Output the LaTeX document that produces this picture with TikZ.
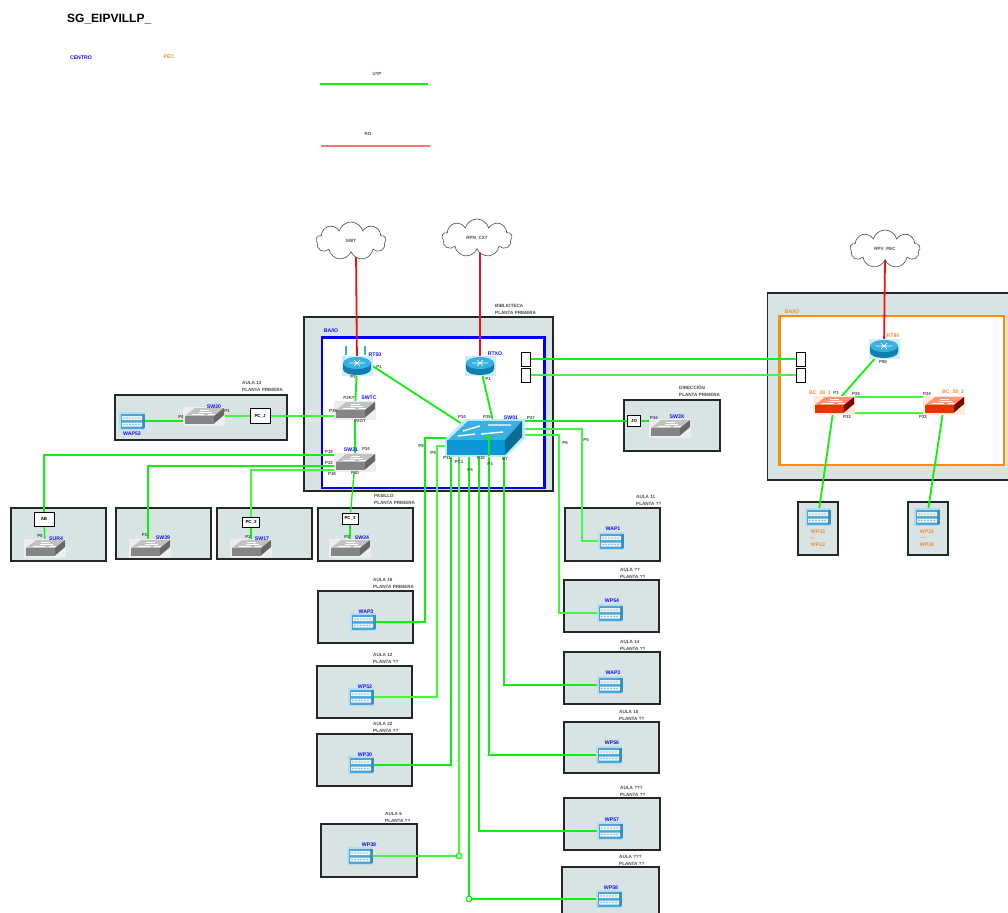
\documentclass[tikz,border=0pt]{standalone}
\usepackage{fontspec}
\setmainfont{Liberation Sans}
\usetikzlibrary{shapes.symbols,calc}
\pgfdeclarelayer{bg}\pgfdeclarelayer{lines}
\pgfsetlayers{bg,lines,main}
\definecolor{tilec}{HTML}{D8E3E3}
\definecolor{utpg}{HTML}{10F010}
\definecolor{utpl}{HTML}{40F840}
\definecolor{rojo}{HTML}{F01010}
\definecolor{rol}{HTML}{FF7070}
\definecolor{bluel}{HTML}{0000F0}
\definecolor{orangel}{HTML}{FF8C00}
\definecolor{labb}{HTML}{1010FF}
\definecolor{labo}{HTML}{F58A30}
\definecolor{wapb}{HTML}{4AA6D8}
\definecolor{wapd}{HTML}{3A8FBF}
\definecolor{rtop}{HTML}{38B0E4}
\definecolor{rbody}{HTML}{0F7EB0}
\newcounter{lc}
\tikzset{
  x=1pt,y=-1pt,
  tile/.style={draw=black!85,fill=tilec,line width=1.1pt},
  zoneb/.style={draw=bluel,fill=white,line width=2.4pt},
  zoneo/.style={draw=orangel,fill=white,line width=2.4pt},
  devbox/.style={inner sep=0pt,outer sep=0pt},
  plab/.style={inner sep=0pt,font=\bfseries\fontsize{4.4}{5}\selectfont,text=black!70},
  nlab/.style={inner sep=0pt,font=\bfseries\fontsize{5.2}{6}\selectfont},
  tlab/.style={inner sep=0pt,anchor=north west,align=left,font=\bfseries\fontsize{4.6}{7}\selectfont,text=black!70},
  wport/.style={draw=black,fill=white,line width=1pt,inner sep=0pt,font=\bfseries\fontsize{4.4}{5}\selectfont},
  nube/.style={cloud,cloud puffs=9,aspect=1.9,draw=black!70,fill=white,line width=.6pt,inner sep=0pt,minimum width=70pt,minimum height=38pt,font=\bfseries\fontsize{4.6}{5}\selectfont,text=black!70},
  utp/.style={draw=utpg,line width=1.3pt},
  utpt/.style={draw=utpg,line width=1.8pt},
  utpq/.style={draw=utpl,line width=1.5pt},
  wan/.style={draw=rojo,line width=1.8pt},
  junc/.style={circle,draw=utpg,fill=white,line width=1.2pt,minimum size=5.5pt,inner sep=0pt},
  pics/swdev/.style n args={4}{code={
    \fill[#4] (-21,-9.5) rectangle (21,9.5);
    \fill[#1] (-19,0) -- (-9,-8) -- (20,-8) -- (10,0) -- cycle;
    \fill[#2] (-19,0) rectangle (10,7.5);
    \fill[#3] (10,0) -- (20,-8) -- (20,-1) -- (10,7.5) -- cycle;
    \draw[white,line width=.9pt] (-12,-1.5) -- (0,-1.5) (-5,-3.7) -- (8,-3.7) (-4,-6) -- (5,-6) (4,-1.5) -- (11,-1.5);
  }},
  pics/rtdev/.style={code={
    \fill[rtop!25] (-15.5,-9) rectangle (15.5,11);
    \fill[rbody] (-14,-2) -- (-14,4) .. controls (-14,8) and (-7,10) .. (0,10) .. controls (7,10) and (14,8) .. (14,4) -- (14,-2) -- cycle;
    \fill[rtop] (0,-2) ellipse[x radius=14,y radius=6];
    \draw[white,line width=.7pt] (-8,-2) -- (8,-2) (-3,-5) -- (3,1) (-3,1) -- (3,-5);
  }},
  pics/wapdev/.style={code={
    \fill[wapb!40] (-13,-9) rectangle (13,9);
    \fill[wapb] (-11.5,-7.5) rectangle (11.5,7.5);
    \fill[wapd] (10,-7) rectangle (12.5,7);
    \fill[white!88!wapb] (-10,-5) rectangle (10,-1) (-10,1.5) rectangle (10,5.5);
    \foreach \xx in {-8,-5,-2,1,4,7}{\fill[wapd] (\xx,-3) circle[radius=.6] (\xx,3.5) circle[radius=.6];}
  }}
}
\newcommand{\plbl}[3][black!70]{\stepcounter{lc}\node[plab,text=#1] (t\arabic{lc}) at (#2) {#3};}
\newcommand{\nlbl}[3][labb]{\stepcounter{lc}\node[nlab,text=#1] (t\arabic{lc}) at (#2) {#3};}
\newcommand{\tlbl}[2]{\stepcounter{lc}\node[tlab] (t\arabic{lc}) at (#1) {#2};}
\newcommand{\graysw}[2]{\node[devbox,minimum width=40pt,minimum height=16pt] (#1) at (#2) {};\pic at (#1) {swdev={black!24}{black!48}{black!60}{black!7}};}
\newcommand{\orsw}[2]{\node[devbox,minimum width=40pt,minimum height=16pt] (#1) at (#2) {};\pic at (#1) {swdev={orange!50!red!55}{red!55!orange!90!black}{red!50!black}{orange!14}};}
\newcommand{\wapn}[2]{\node[devbox,minimum width=25pt,minimum height=16pt] (#1) at (#2) {};\pic at (#1) {wapdev};}
\newcommand{\rtn}[2]{\node[devbox,minimum width=28pt,minimum height=14pt] (#1) at (#2) {};\pic at (#1) {rtdev};}
\begin{document}
\begin{tikzpicture}
\useasboundingbox (0,0) rectangle (1008,912);
\begin{pgfonlayer}{bg}
\fill[white] (0,0) rectangle (1008,912);
\draw[tile] (304,317) rectangle (553,491);
\draw[zoneb] (322,337.5) rectangle (544.5,488);
\draw[tile] (767.5,293) rectangle (1010,480);
\draw[zoneo] (779.5,316) rectangle (1004,465);
\draw[tile] (115,395) rectangle (287,440);
\draw[tile] (624,400) rectangle (720,451);
\draw[tile] (11,508) rectangle (106,561);
\draw[tile] (116,508) rectangle (211,559);
\draw[tile] (217,508) rectangle (312,559);
\draw[tile] (318,508) rectangle (413,561);
\draw[tile] (565,508) rectangle (660,561);
\draw[tile] (564,580) rectangle (659,632);
\draw[tile] (564,652) rectangle (660,704);
\draw[tile] (564,722) rectangle (659,773);
\draw[tile] (564,798) rectangle (660,850);
\draw[tile] (562,867) rectangle (659,914);
\draw[tile] (318,591) rectangle (413,643);
\draw[tile] (317,666) rectangle (412,718);
\draw[tile] (317,734) rectangle (412,786);
\draw[tile] (321,824) rectangle (417,877);
\draw[tile] (798,502) rectangle (838,555);
\draw[tile] (908,502) rectangle (948,555);
\end{pgfonlayer}

% clouds
\node[nube] (swt) at (351,241) {SWT};
\node[nube] (cxt) at (477,238) {RPN\_CXT};
\node[nube] (pec) at (885,249) {RPV\_PEC};

% routers
\rtn{rt50}{357,365}
\rtn{rtxo}{480,365}
\rtn{rt90}{884,348}
\draw[rtop,line width=1.2pt] (346,346) -- (346,355) (365,346) -- (365,355);

% switches
\graysw{swtc}{355,410}
\graysw{sw21}{355,462}
\graysw{sw2}{204,416}
\graysw{sw3x}{670,428}
\graysw{sur}{45,548}
\graysw{sw39}{150,548}
\graysw{sw17}{251,548}
\graysw{sw24}{350,548}
\orsw{bc1}{834,405}
\orsw{bc2}{944,405}

% core switch
\node[devbox,minimum width=77pt,minimum height=35pt] (core) at (485,437.5) {};
\fill[cyan!25] (445,439) -- (465,419) -- (525,419) -- (525,438) -- (506,457) -- (445,457) -- cycle;
\fill[rtop] (448,440) -- (468,421) -- (522,421) -- (505,440) -- cycle;
\fill[rbody!60!cyan!85!blue] (447,439.5) rectangle (505,455);
\fill[rbody!85!black] (505,440) -- (522,421) -- (522,437) -- (505,455) -- cycle;
\draw[white,line width=1.4pt] (463,431) -- (480,426) (488,425) -- (511,425) (458,436) -- (475,434) (481,434) -- (503,432);
\coordinate (c7a) at (484,436);\coordinate (c7b) at (489,436);\coordinate (c7c) at (489,456);
\draw[utp] (c7a) -- (c7b) -- (c7c);

% wall ports
\node[wport,minimum width=20pt,minimum height=14pt] (ab) at (44,519) {AB};
\node[wport,minimum width=17pt,minimum height=10pt] (pc3a) at (251,522) {PC\_3};
\node[wport,minimum width=16pt,minimum height=11pt] (pc3b) at (350,518.5) {PC\_3};
\node[wport,minimum width=20pt,minimum height=15pt] (pcj) at (260,416) {PC\_J};
\node[wport,minimum width=13pt,minimum height=11pt] (jo) at (634,421) {JO};
\node[wport,minimum width=9pt,minimum height=14pt] (la) at (526,359) {};
\node[wport,minimum width=9pt,minimum height=14pt] (lb) at (526,375) {};
\node[wport,minimum width=9pt,minimum height=14pt] (ra) at (800.5,359) {};
\node[wport,minimum width=9pt,minimum height=14pt] (rb) at (800.5,375) {};

% waps
\wapn{wap53}{132,421}
\wapn{wap1}{611,541}
\wapn{wap54}{610,613}
\wapn{wap3}{610,685}
\wapn{wap6}{609,755}
\wapn{wap7}{610,831}
\wapn{wap8}{609,899}
\wapn{wapa}{363,622}
\wapn{wapb}{361,697}
\wapn{wapc}{361,765}
\wapn{wapd}{360,856}
\wapn{wapr1}{818,517}
\wapn{wapr2}{927,517}

\node[junc] (j1) at (459,856) {};
\node[junc] (j2) at (469,899) {};

% legend lines
\coordinate (lg1) at (320,84);\coordinate (lg2) at (428,84);
\coordinate (lg3) at (321,146);\coordinate (lg4) at (430,146);
% core ports
\coordinate (c1) at (447,438);\coordinate (c2) at (447,446);
\coordinate (c3) at (451,455);\coordinate (c4) at (459,455);
\coordinate (c5) at (469,455);\coordinate (c6) at (479,455);
\coordinate (c8) at (504,455);
\coordinate (c9) at (523,429);\coordinate (c10) at (523,435);
\coordinate (c11) at (523,421);
\coordinate (c12) at (462,424);\coordinate (c13) at (493,421);
\coordinate (s1) at (337,462);\coordinate (s1b) at (337,455);\coordinate (s2) at (337,466);\coordinate (s3) at (337,470);
\coordinate (ln1) at (148,548);
\coordinate (v1) at (582,541);\coordinate (v2) at (559,613);
\coordinate (v3) at (425,622);\coordinate (v4) at (437,697);
\coordinate (b1) at (855,397);\coordinate (b2) at (930,397);
\coordinate (b3) at (853,413);\coordinate (b4) at (925,413);

\begin{pgfonlayer}{lines}
\draw[utp] (lg1) -- (lg2);
\draw[draw=rol,line width=2pt] (lg3) -- (lg4);
\draw[wan] ($(swt.south)+(5,-2)$) -- (rt50.center);
\draw[wan] ($(cxt.south)+(3,-2)$) -- (rtxo.center);
\draw[wan] ($(pec.south)+(0,-2)$) -- (rt90.center);
\draw[utpt] (rt50) -- (swtc);
\draw[utpt] (rt50.east) -- (c12);
\draw[utpt] (rtxo) -- (c13);
\draw[utpt] (swtc) -- (sw21);
\draw[utpt] (wap53) -- (wap53 -| sw2.west);
\draw[utpq] (sw2) -- (pcj);
\draw[utpq] (pcj) -- (pcj -| swtc.west);
\draw[utp] (s1) -- (s1b) -| (ab);
\draw[utp] (s2) -| (ln1);
\draw[utpq] (s3) -| (pc3a);
\draw[utp] (pc3a) -- (sw17);
\draw[utp] (ab) -- (sur);
\draw[utp] (sw21) -- (pc3b);
\draw[utp] (pc3b) -- (sw24);
\draw[utpt] (c11) -- (jo);
\draw[utpt] (jo) -- (jo -| sw3x);
\draw[utpq] (c9) -| (v1) -- (wap1);
\draw[utpq] (c10) -| (v2) -- (wap54);
\draw[utp] (c8) |- (wap3);
\draw[utp] (c7c) |- (wap6);
\draw[utp] (c6) |- (wap7);
\draw[utpt] (c5) -- (j2);
\draw[utpt] (j2) -- (wap8);
\draw[utpq] (c4) -- (j1);
\draw[utpt,draw=utpl] (wapd) -- (j1);
\draw[utpt] (c1) -| (v3) -- (wapa);
\draw[utpq] (c2) -| (v4) -- (wapb);
\draw[utpt] (c3) |- (wapc);
\draw[utpt] (la.east) -- (ra.west);
\draw[utpq] (lb.east) -- (rb.west);
\draw[utpt] (rt90) -- (bc1);
\draw[utpq] (b1) -- (b2);
\draw[utpq] (b3) -- (b4);
\draw[utpt] (bc1) -- (wapr1);
\draw[utpt] (bc2) -- (wapr2);
\end{pgfonlayer}

% title and legend
\stepcounter{lc}\node[inner sep=0pt,anchor=west,font=\bfseries\fontsize{12}{14}\selectfont] (t\arabic{lc}) at (67,19) {SG\_EIPVILLP\_};
\nlbl{81,58}{CENTRO}
\nlbl[labo]{169,57}{PEC}
\plbl{377,74}{UTP}
\plbl{368,134}{RO}

% zone titles
\nlbl{331,331}{BA/IO}
\nlbl[labo]{792,312}{BA/IO}
\tlbl{495,304}{BIBLIOTECA\\PLANTA PRIMERA}
\tlbl{242,381}{AULA 13\\PLANTA PRIMERA}
\tlbl{374,494}{PASILLO\\PLANTA PRIMERA}
\tlbl{679,385}{DIRECCIÓN\\PLANTA PRIMERA}
\tlbl{636,495}{AULA 11\\PLANTA ??}
\tlbl{620,568}{AULA ??\\PLANTA ??}
\tlbl{620,640}{AULA 14\\PLANTA ??}
\tlbl{619,710}{AULA 10\\PLANTA ??}
\tlbl{620,786}{AULA ???\\PLANTA ??}
\tlbl{619,855}{AULA ???\\PLANTA ??}
\tlbl{373,578}{AULA 16\\PLANTA PRIMERA}
\tlbl{373,653}{AULA 12\\PLANTA ??}
\tlbl{373,722}{AULA 22\\PLANTA ??}
\tlbl{385,812}{AULA 6\\PLANTA ??}

% device names
\nlbl{375,355}{RT50}
\nlbl{495,354}{RTXO}
\nlbl{369,398}{SWTC}
\nlbl{351,450}{SW21}
\nlbl{511,418}{SW01}
\nlbl{214,407}{SW20}
\nlbl{132,434}{WAP53}
\nlbl{677,417}{SW3X}
\nlbl{56,539}{SUR4}
\nlbl{163,538}{SW39}
\nlbl{262,539}{SW17}
\nlbl{362,538}{SW24}
\nlbl{613,529}{WAP1}
\nlbl{612,601}{WP54}
\nlbl{613,673}{WAP3}
\nlbl{612,743}{WP56}
\nlbl{612,820}{WP57}
\nlbl{611,888}{WP58}
\nlbl{366,612}{WAP3}
\nlbl{365,687}{WP52}
\nlbl{365,755}{WP30}
\nlbl{369,845}{WP38}
\nlbl[labo]{893,336}{RT90}
\nlbl[labo]{820,393}{BC\_38\_1}
\nlbl[labo]{953,392}{BC\_38\_2}
\nlbl[labo]{818,532}{WP33}
\nlbl[labo]{818,545}{WP13}
\plbl[labo]{812,539}{---}
\nlbl[labo]{927,532}{WP32}
\nlbl[labo]{927,545}{WP29}
\plbl[labo]{923,539}{---}

% port labels
\plbl{379,367}{P1}
\plbl{353,377}{P2}
\plbl{349,398}{P2KT}
\plbl{333,411}{P28}
\plbl{360,421}{P2OT}
\plbl{329,452}{P19}
\plbl{329,463}{P22}
\plbl{332,474}{P18}
\plbl{355,473}{P20}
\plbl{366,449}{P24}
\plbl{462,417}{P24}
\plbl{487,417}{P25}
\plbl{531,418}{P27}
\plbl{421,446}{P8}
\plbl{433,453}{P9}
\plbl{447,458}{P11}
\plbl{459,462}{PC1}
\plbl{470,470}{P5}
\plbl{481,458}{P10}
\plbl{490,464}{P4}
\plbl{505,459}{B7}
\plbl{488,379}{P1}
\plbl{565,443}{P6}
\plbl{586,440}{P5}
\plbl{654,418}{P34}
\plbl{181,417}{P4}
\plbl{227,411}{P1}
\plbl{40,536}{P8}
\plbl{145,535}{PC}
\plbl{248,537}{P1}
\plbl{347,537}{P2}
\plbl{883,362}{P80}
\plbl{836,393}{P1}
\plbl{856,394}{P24}
\plbl{927,394}{P24}
\plbl{847,417}{P23}
\plbl{923,417}{P23}
\end{tikzpicture}
\end{document}
